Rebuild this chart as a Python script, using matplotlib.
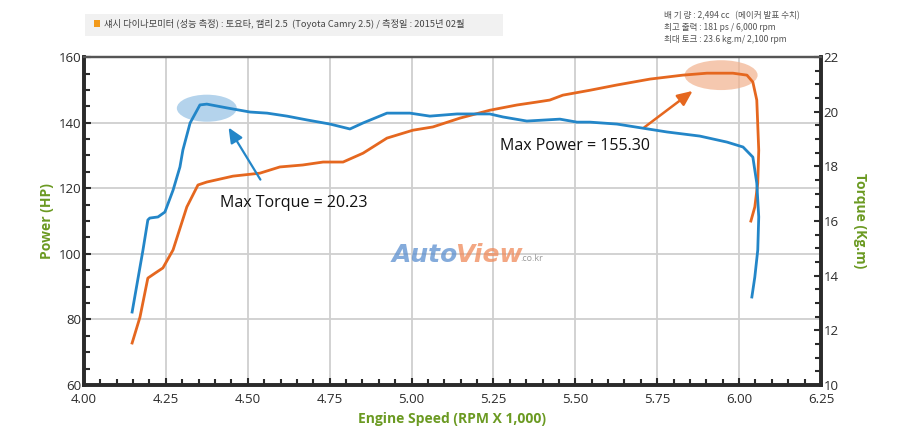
import matplotlib
matplotlib.use('Agg')
import matplotlib.pyplot as plt
from matplotlib.patches import Ellipse, Rectangle
from matplotlib.ticker import MultipleLocator, FormatStrFormatter

plt.rcParams['font.family'] = ['Noto Sans CJK KR', 'DejaVu Sans']

# torque curve (blue, right axis)
torque_rpm = [4.147, 4.180, 4.195, 4.201, 4.226, 4.247, 4.272, 4.293, 4.302, 4.324,
              4.354, 4.375, 4.437, 4.507, 4.559, 4.620, 4.681, 4.751, 4.812, 4.852,
              4.925, 4.995, 5.056, 5.139, 5.239, 5.279, 5.352, 5.453, 5.505, 5.545,
              5.627, 5.706, 5.780, 5.880, 5.963, 6.012, 6.042, 6.054, 6.060, 6.057,
              6.048, 6.039]
torque = [12.67, 14.93, 16.04, 16.11, 16.15, 16.33, 17.13, 17.98, 18.60, 19.59,
          20.25, 20.28, 20.14, 19.99, 19.95, 19.84, 19.70, 19.55, 19.37, 19.59,
          19.95, 19.95, 19.84, 19.92, 19.92, 19.81, 19.66, 19.73, 19.62, 19.62,
          19.55, 19.40, 19.26, 19.11, 18.89, 18.71, 18.34, 17.39, 16.15, 14.94,
          13.95, 13.22]

# power curve (orange, left axis)
power_rpm = [4.147, 4.171, 4.195, 4.217, 4.241, 4.272, 4.314, 4.348, 4.375, 4.455,
             4.537, 4.598, 4.668, 4.730, 4.791, 4.852, 4.925, 5.004, 5.065, 5.148,
             5.239, 5.322, 5.383, 5.422, 5.462, 5.545, 5.627, 5.728, 5.828, 5.902,
             5.981, 6.024, 6.042, 6.054, 6.060, 6.057, 6.048, 6.036]
power = [72.8, 80.7, 92.6, 94.1, 95.7, 101.2, 114.3, 121.0, 121.9, 123.7,
         124.6, 126.5, 127.1, 128.0, 128.0, 130.7, 135.3, 137.7, 138.7, 141.4,
         143.8, 145.4, 146.3, 146.9, 148.4, 149.9, 151.5, 153.3, 154.5, 155.1,
         155.1, 154.5, 152.4, 146.9, 131.6, 121.6, 114.3, 110.0]

title = '섀시 다이나모미터 (성능 측정) : 토요타, 캠리 2.5  (Toyota Camry 2.5) / 측정일 : 2015년 02월'
specs = ['배 기 량 : 2,494 cc   (메이커 발표 수치)',
         '최고 출력 : 181 ps / 6,000 rpm',
         '최대 토크 : 23.6 kg.m/ 2,100 rpm']

blue = '#2386c8'
orange = '#e5671f'
green = '#6b9a22'
dark = '#2b2b2b'
latin = ['Open Sans', 'DejaVu Sans']

fig = plt.figure(figsize=(9, 4.36), dpi=100)
ax = fig.add_axes([0.0933, 0.117, 0.8189, 0.752])
ax2 = ax.twinx()

ax.set_xlim(4.0, 6.25)
ax.set_ylim(60, 160)
ax2.set_ylim(10, 22)

ax.grid(True, which='major', color='#cfcfcf', lw=1.3)
ax.set_axisbelow(True)

ax.xaxis.set_major_locator(MultipleLocator(0.25))
ax.xaxis.set_minor_locator(MultipleLocator(0.05))
ax.xaxis.set_major_formatter(FormatStrFormatter('%.2f'))
ax.yaxis.set_major_locator(MultipleLocator(20))
ax.yaxis.set_minor_locator(MultipleLocator(5))
ax2.yaxis.set_major_locator(MultipleLocator(2))
ax2.yaxis.set_minor_locator(MultipleLocator(0.5))

for a in (ax, ax2):
    a.tick_params(which='both', direction='in', colors=dark, labelsize=9.5, width=1.5)
    a.tick_params(which='major', length=5, pad=2)
    a.tick_params(which='minor', length=4)
    for s in ('left', 'right', 'bottom'):
        a.spines[s].set_linewidth(2.6)
        a.spines[s].set_color(dark)
    a.spines['top'].set_linewidth(1.6)
    a.spines['top'].set_color('#555555')
ax.tick_params(axis='x', pad=6)
for lab in ax.get_xticklabels() + ax.get_yticklabels() + ax2.get_yticklabels():
    lab.set_family(latin)

ax.set_xlabel('Engine Speed (RPM X 1,000)', color=green, fontsize=10, fontweight='bold',
              family=latin, labelpad=4)
ax.set_ylabel('Power (HP)', color=green, fontsize=10, fontweight='bold',
              family=latin, labelpad=3)
ax2.set_ylabel('Torque (Kg.m)', color=green, fontsize=10, fontweight='bold', rotation=270,
               family=latin, labelpad=20)

# watermark
ax.text(0.418, 0.396, 'Auto', transform=ax.transAxes, fontsize=18, fontweight='bold',
        style='italic', color='#5b8fd0', alpha=0.75, ha='left', va='center',
        family='DejaVu Sans')
ax.text(0.503, 0.396, 'View', transform=ax.transAxes, fontsize=18, fontweight='bold',
        style='italic', color='#f08a5a', alpha=0.75, ha='left', va='center',
        family='DejaVu Sans')
ax.text(0.592, 0.386, '.co.kr', transform=ax.transAxes, fontsize=6.5,
        color='#999999', ha='left', va='center', family=latin)

# highlight ellipses
ax2.add_patch(Ellipse((4.375, 20.13), 0.183, 0.99, color='#94c1e4', alpha=0.7, lw=0, zorder=1))
ax.add_patch(Ellipse((5.945, 154.5), 0.223, 9.1, color='#f2b18d', alpha=0.7, lw=0, zorder=1))

ax.plot(power_rpm, power, color=orange, lw=2.0, zorder=3)
ax2.plot(torque_rpm, torque, color=blue, lw=2.0, zorder=3)

ax2.annotate('', xy=(4.437, 19.51), xytext=(4.543, 17.43),
             arrowprops=dict(arrowstyle='-|>,head_length=0.9,head_width=0.4',
                             color=blue, lw=1.6))
ax.annotate('', xy=(5.865, 150.2), xytext=(5.703, 138.0),
            arrowprops=dict(arrowstyle='-|>,head_length=0.9,head_width=0.4',
                            color=orange, lw=1.8))

ax.text(4.415, 115.5, 'Max Torque = 20.23', fontsize=11.5, color='#111111',
        va='center', family=latin)
ax.text(5.27, 132.9, 'Max Power = 155.30', fontsize=11.5, color='#111111',
        va='center', family=latin)

# header band
fig.patches.append(Rectangle((0.094, 0.918), 0.465, 0.05, transform=fig.transFigure,
                             facecolor='#f1f1f1', edgecolor='none'))
fig.patches.append(Rectangle((0.104, 0.938), 0.0075, 0.015, transform=fig.transFigure,
                             facecolor='#f29a1b', edgecolor='none'))
fig.text(0.115, 0.945, title, fontsize=6.7, color='#444444', va='center')

for i, line in enumerate(specs):
    fig.text(0.738, 0.965 - i * 0.028, line, fontsize=6.2, color='#555555', va='center')

fig.savefig('out.png', dpi=100, facecolor='white')
